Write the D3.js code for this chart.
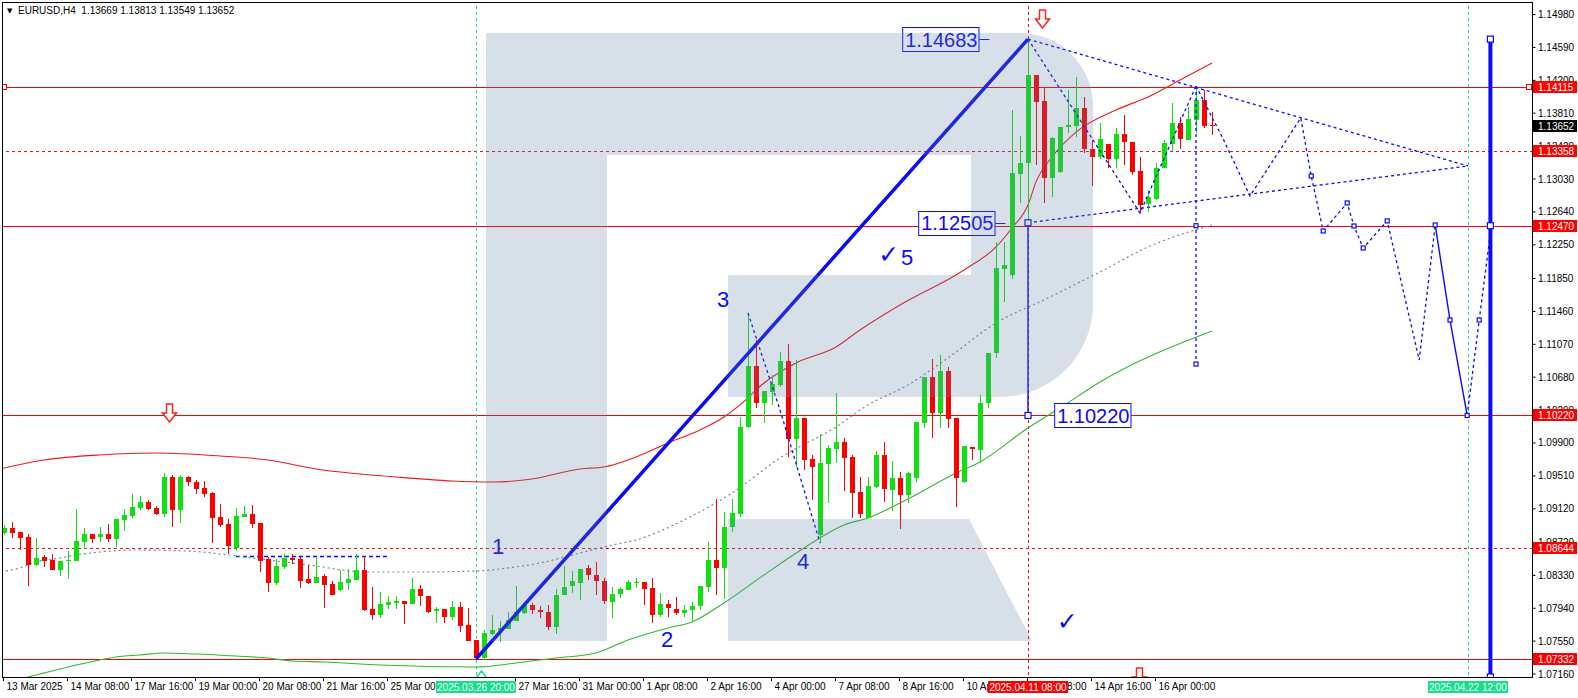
<!DOCTYPE html>
<html><head><meta charset="utf-8">
<script src="https://cdn.jsdelivr.net/npm/d3@7"></script>
<style>html,body{margin:0;padding:0;background:#fff;overflow:hidden}svg{display:block}</style>
</head><body>
<svg id="chart" width="1578" height="698"></svg>
<script>
// ---------- DATA (EURUSD H4, bar index 0 = 13 Mar 2025 00:00) ----------
const open = [
1.08826,1.08886,1.08838,1.08779,1.08448,1.08542,1.08507,1.08388,1.08495,1.08495,
1.08720,1.08815,1.08779,1.08815,1.08755,1.08981,1.09028,1.09123,1.09194,1.09123,
1.09052,1.09491,1.09099,1.09491,1.09431,1.09361,1.09301,1.09016,1.08933,1.08649,
1.09016,1.09052,1.08945,1.08518,1.08234,1.08424,1.08530,1.08518,1.08281,1.08234,
1.08317,1.08222,1.08151,1.08234,1.08269,1.08388,1.07926,1.07855,1.07973,1.07997,
1.08020,1.07985,1.08163,1.08080,1.07902,1.07926,1.07831,1.07950,1.07736,1.07558,
1.07344,1.07629,1.07665,1.07688,1.07783,1.07878,1.07973,1.07914,1.07890,1.07712,
1.08091,1.08198,1.08234,1.08412,1.08329,1.08257,1.08009,1.08103,1.08151,1.08234,
1.08246,1.08174,1.07855,1.07985,1.07926,1.07878,1.07914,1.07962,1.08186,1.08507,
1.08412,1.08898,1.09052,1.10084,1.10807,1.10368,1.10499,1.10582,1.10866,1.09942,
1.10191,1.09704,1.08803,1.09645,1.09823,1.09906,1.09728,1.09313,1.09004,1.09372,
1.09752,1.09337,1.09479,1.09277,1.09479,1.10131,1.10677,1.10250,1.10748,1.10191,
1.09431,1.09847,1.09811,1.10368,1.10961,1.11957,1.11886,1.13084,1.13214,1.14258,
1.13949,1.13036,1.13107,1.13641,1.13653,1.13866,1.13380,1.13285,1.13439,1.13261,
1.13558,1.13463,1.13119,1.12728,1.12787,1.13155,1.13439,1.13688,1.13487,1.13724,
1.13961,1.13669];
const high = [
1.08922,1.08957,1.08838,1.08815,1.08767,1.08566,1.08578,1.08495,1.08613,1.09111,
1.08886,1.08815,1.08898,1.08933,1.08993,1.09111,1.09289,1.09265,1.09218,1.09147,
1.09538,1.09514,1.09514,1.09503,1.09455,1.09443,1.09313,1.09171,1.08993,1.09123,
1.09147,1.09159,1.08945,1.08542,1.08518,1.08578,1.08578,1.08542,1.08448,1.08530,
1.08341,1.08257,1.08388,1.08400,1.08578,1.08554,1.08186,1.08127,1.08080,1.08080,
1.08020,1.08293,1.08210,1.08080,1.07950,1.07926,1.08020,1.08009,1.07938,1.07558,
1.07676,1.07855,1.07783,1.07890,1.08198,1.08009,1.07997,1.07962,1.07973,1.08163,
1.08436,1.08376,1.08400,1.08448,1.08483,1.08293,1.08186,1.08186,1.08269,1.08293,
1.08246,1.08293,1.08115,1.08032,1.08068,1.07973,1.08009,1.08198,1.08720,1.09230,
1.09076,1.09230,1.10202,1.11435,1.11115,1.10511,1.10700,1.10973,1.11068,1.10878,
1.10191,1.09752,1.10001,1.09870,1.10487,1.09953,1.09752,1.09491,1.09491,1.09799,
1.09906,1.09680,1.09550,1.09550,1.10143,1.10677,1.10890,1.10937,1.10795,1.10191,
1.09859,1.09847,1.10463,1.10961,1.12277,1.12277,1.13843,1.13534,1.14683,1.14258,
1.14103,1.13522,1.13641,1.14080,1.14234,1.13996,1.13487,1.13688,1.13439,1.13629,
1.13783,1.13463,1.13285,1.12894,1.13214,1.13487,1.13925,1.13759,1.13878,1.14127,
1.14080,1.13813];
const low = [
1.08803,1.08767,1.08625,1.08198,1.08436,1.08424,1.08388,1.08317,1.08281,1.08495,
1.08637,1.08708,1.08720,1.08720,1.08660,1.08850,1.09004,1.09099,1.09099,1.09040,
1.09016,1.08898,1.08945,1.09384,1.09289,1.09254,1.08708,1.08898,1.08578,1.08613,
1.09016,1.08886,1.08364,1.08127,1.08210,1.08400,1.08459,1.08174,1.08222,1.08234,
1.07938,1.08091,1.08139,1.08151,1.08269,1.07902,1.07795,1.07819,1.07926,1.07926,
1.07748,1.07985,1.07962,1.07878,1.07760,1.07760,1.07795,1.07652,1.07546,1.07332,
1.07321,1.07617,1.07534,1.07688,1.07783,1.07866,1.07866,1.07819,1.07676,1.07629,
1.08091,1.08115,1.08032,1.08269,1.08091,1.07985,1.07819,1.08056,1.08151,1.08174,
1.07973,1.07760,1.07831,1.07831,1.07855,1.07831,1.07783,1.07914,1.08127,1.08091,
1.08044,1.08838,1.09016,1.10072,1.10309,1.10131,1.10345,1.10558,1.09728,1.09609,
1.09574,1.09218,1.08708,1.09182,1.09656,1.09325,1.09004,1.09004,1.09004,1.09361,
1.09194,1.09087,1.08874,1.09182,1.09431,1.10072,1.09953,1.10072,1.10072,1.09135,
1.09420,1.09692,1.09656,1.10309,1.10902,1.11566,1.11839,1.12740,1.12505,1.13190,
1.12740,1.12811,1.13096,1.13570,1.13522,1.13333,1.12941,1.13261,1.13155,1.13155,
1.13190,1.13072,1.12621,1.12633,1.12775,1.13155,1.13356,1.13380,1.13487,1.13570,
1.13629,1.13549];
const close = [
1.08886,1.08826,1.08767,1.08448,1.08530,1.08495,1.08388,1.08495,1.08507,1.08732,
1.08815,1.08755,1.08815,1.08755,1.08993,1.09040,1.09135,1.09194,1.09111,1.09052,
1.09491,1.09099,1.09491,1.09431,1.09349,1.09289,1.09004,1.08922,1.08672,1.09028,
1.09052,1.08933,1.08495,1.08234,1.08436,1.08530,1.08507,1.08257,1.08234,1.08305,
1.08210,1.08091,1.08246,1.08281,1.08388,1.07914,1.07855,1.07985,1.08009,1.08020,
1.07985,1.08163,1.08080,1.07890,1.07926,1.07831,1.07950,1.07724,1.07546,1.07344,
1.07641,1.07676,1.07700,1.07795,1.07890,1.07973,1.07914,1.07890,1.07712,1.08091,
1.08186,1.08257,1.08400,1.08329,1.08257,1.08020,1.08103,1.08163,1.08246,1.08246,
1.08163,1.07855,1.07985,1.07938,1.07878,1.07914,1.07962,1.08198,1.08507,1.08412,
1.08898,1.09064,1.10084,1.10807,1.10368,1.10511,1.10594,1.10866,1.09942,1.10191,
1.09692,1.09609,1.09656,1.09835,1.09906,1.09716,1.09301,1.09052,1.09384,1.09752,
1.09349,1.09479,1.09277,1.09538,1.10143,1.10677,1.10250,1.10748,1.10179,1.09479,
1.09859,1.09823,1.10368,1.10961,1.11969,1.12004,1.13096,1.13214,1.14258,1.13937,
1.13036,1.13510,1.13641,1.13664,1.13866,1.13380,1.13285,1.13499,1.13261,1.13558,
1.13463,1.13107,1.12716,1.12811,1.13155,1.13451,1.13688,1.13499,1.13736,1.13961,
1.13653,1.13652];

// moving averages: [bar, price]
const redMA = [[-1,1.09575],[5,1.09692],[12,1.09752],[19,1.09775],[27,1.09740],[33,1.09692],[39,1.09586],[49,1.09491],[56,1.09443],[61,1.09431],[66,1.09467],[72,1.09586],[75,1.09609],[79,1.09728],[83,1.09894],[87,1.10048],[90,1.10202],[92,1.10345],[95,1.10605],[99,1.10843],[104,1.11032],[107,1.11234],[112,1.11530],[120,1.11945],[124,1.12218],[126,1.12443],[128,1.12716],[129,1.12990],[131,1.13285],[134,1.13580],[139,1.13843],[143,1.13997],[147,1.14198],[151,1.14400]];
const greenMA = [[-1,1.07036],[3,1.07119],[8,1.07238],[12,1.07321],[14,1.07356],[17,1.07380],[20,1.07404],[24,1.07392],[29,1.07368],[33,1.07344],[36,1.07309],[40,1.07297],[47,1.07261],[59,1.07238],[64,1.07285],[69,1.07344],[74,1.07404],[78,1.07558],[83,1.07700],[86,1.07771],[90,1.07997],[95,1.08329],[100,1.08649],[105,1.08922],[108,1.09005],[113,1.09230],[119,1.09538],[122,1.09669],[128,1.10072],[132,1.10309],[137,1.10617],[151,1.11222]];
const grayMA = [[-1,1.08364],[2,1.08412],[4,1.08483],[7,1.08530],[9,1.08566],[12,1.08601],[16,1.08625],[23,1.08613],[28,1.08566],[31,1.08530],[35,1.08483],[39,1.08435],[45,1.08364],[51,1.08364],[59,1.08376],[63,1.08412],[67,1.08471],[72,1.08590],[76,1.08684],[79,1.08744],[85,1.08981],[91,1.09301],[97,1.09716],[104,1.10084],[108,1.10345],[113,1.10582],[118,1.10902],[124,1.11317],[130,1.11590],[135,1.11827],[137,1.11922],[143,1.12218],[151,1.12479]];

// levels
const solidLevels = [1.14115, 1.12470, 1.10220, 1.07332];
const dashedLevels = [1.13358, 1.08644];
const blueDashLevel = {from: 29, to: 48, price: 1.08554};
const markerPrices = [1.14115, 1.13358, 1.12470, 1.10220, 1.08644, 1.07332];
const currentPrice = 1.13652;

// vertical time markers
const greenVBars = [59, 183];
const redVBars = [128];
const dateTagBars = [59, 128, 183];
const dateTagLabels = ["2025.03.26 20:00", "2025.04.11 08:00", "2025.04.22 12:00"];

// axis ticks
const yTicks = [1.14980,1.14590,1.14200,1.13810,1.13420,1.13030,1.12640,1.12250,1.11850,1.11460,1.11070,1.10680,1.10290,1.09900,1.09510,1.09120,1.08720,1.08330,1.07940,1.07550,1.07160];
const xTickBars = [0,8,16,24,32,40,48,64,72,80,88,96,104,112,120,128,136,144];
const xTickLabels = ["13 Mar 2025","14 Mar 08:00","17 Mar 16:00","19 Mar 00:00","20 Mar 08:00","21 Mar 16:00","25 Mar 00:00","27 Mar 16:00","31 Mar 00:00","1 Apr 08:00","2 Apr 16:00","4 Apr 00:00","7 Apr 08:00","8 Apr 16:00","10 Apr 00:00","11 Apr 08:00","14 Apr 16:00","16 Apr 00:00"];

// analysis drawings [bar, price]
const waveLine = [[59,1.07332],[128,1.14683]];
const triUpper = [[128,1.14683],[183,1.13179]];
const triLower = [[128,1.12505],[183,1.13179]];
const zigzag = [[128,1.14683],[142,1.12621],[149,1.14127]];
const wave34 = [[93,1.11435],[97,1.10285],[102,1.08708]];
const vert149 = [[149,1.14127],[149,1.10830]];
const forecastDotA = [[149,1.14127],[152.4,1.13499],[155.75,1.12823],[162.1,1.13748],[163.4,1.13060],[164.9,1.12408],[167.9,1.12740],[168.75,1.12467],[169.9,1.12206],[172.9,1.12527],[176.9,1.10878],[178.9,1.12479]];
const forecastSolid = [[178.9,1.12479],[180.75,1.11352],[182.9,1.10220]];
const forecastDotB = [[182.9,1.10220],[184.4,1.11352],[185.9,1.12455]];
const forecastNodes = [[149,1.12470],[149,1.10830],[163.4,1.13060],[164.9,1.12408],[167.9,1.12740],[168.75,1.12467],[169.9,1.12206],[172.9,1.12527],[178.9,1.12479],[180.75,1.11352],[182.9,1.10220],[184.4,1.11352]];
const measureLine = [[128,1.12505],[128,1.10220]];
const thickVBar = 185.8;
const thickVTop = 1.14683;
const thickVNodes = [1.14683, 1.12470, 1.07119];
const tagPrices = [1.14683, 1.12505, 1.10220];
const tagBoxBars = [112.4, 114.4, 131.4];
const tagTickSide = ["right", "right", "none"];
const waveLabels = [["1",61.75,1.08672],["2",82.9,1.07558],["3",89.9,1.11590],["4",99.9,1.08483],["5",112.9,1.12088]];
const checkMarks = [[110.6,1.12124],[132.9,1.07783]];
const downArrows = [[129.75,1.14815],[20.6,1.10143],[141.9,1.07012]];
const upArrows = [[59.6,1.07190]];
const header = "EURUSD,H4  1.13669 1.13813 1.13549 1.13652";

// ---------- DRAWING ----------
const F = '"Liberation Sans", Arial, sans-serif';
const svg = d3.select('#chart');
const x = d3.scaleLinear().domain([0, 191]).range([4, 1532]);
const y = d3.scaleLinear().domain([1.07119, 1.15123]).range([677, 2]);
const ry = p => Math.round(y(p)) + 0.5;
const rx = b => Math.round(x(b)) + 0.5;
const BLUE = '#0a0af5';

svg.append('rect').attr('width', 1578).attr('height', 698).attr('fill', '#fff');
svg.append('defs').append('clipPath').attr('id', 'clip')
  .append('rect').attr('x', 2).attr('y', 2).attr('width', 1530).attr('height', 675);
const g = svg.append('g').attr('clip-path', 'url(#clip)');

// horizontal levels
solidLevels.forEach(p => g.append('line').attr('x1', 0).attr('x2', 1532).attr('y1', ry(p)).attr('y2', ry(p)).attr('stroke', '#ff0000'));
dashedLevels.forEach(p => g.append('line').attr('x1', 0).attr('x2', 1532).attr('y1', ry(p)).attr('y2', ry(p)).attr('stroke', '#ee1111').attr('stroke-dasharray', '3,3'));
g.append('line').attr('x1', x(blueDashLevel.from)).attr('x2', x(blueDashLevel.to)).attr('y1', ry(blueDashLevel.price)).attr('y2', ry(blueDashLevel.price)).attr('stroke', BLUE).attr('stroke-width', 1.4).attr('stroke-dasharray', '4,3');
[4, 1529].forEach(px => g.append('rect').attr('x', px - 2.5).attr('y', ry(markerPrices[0]) - 3).attr('width', 5).attr('height', 5).attr('fill', '#fff').attr('stroke', '#ff0000'));

// vertical lines
greenVBars.forEach(b => g.append('line').attr('x1', rx(b)).attr('x2', rx(b)).attr('y1', 0).attr('y2', 680).attr('stroke', '#14e08a').attr('stroke-dasharray', '3,3'));
redVBars.forEach(b => g.append('line').attr('x1', rx(b)).attr('x2', rx(b)).attr('y1', 0).attr('y2', 680).attr('stroke', '#ee1111').attr('stroke-dasharray', '3,3'));

// moving averages
const lg = d3.line().x(d => x(d[0])).y(d => y(d[1])).curve(d3.curveMonotoneX);
g.append('path').datum(grayMA).attr('d', lg).attr('fill', 'none').attr('stroke', '#7a8898').attr('stroke-width', 1.2).attr('stroke-dasharray', '2,3');
g.append('path').datum(greenMA).attr('d', lg).attr('fill', 'none').attr('stroke', '#2dbb2d').attr('stroke-width', 1.1);
g.append('path').datum(redMA).attr('d', lg).attr('fill', 'none').attr('stroke', '#ee1a1a').attr('stroke-width', 1.1);

// candles
const cg = g.append('g');
open.forEach((o, i) => {
  const c = close[i], bull = c >= o;
  const col = bull ? '#10e010' : '#ff0000';
  const cx = Math.round(x(i));
  const yH = Math.round(y(high[i])), yL = Math.round(y(low[i]));
  cg.append('rect').attr('x', cx).attr('y', yH).attr('width', 1).attr('height', Math.max(1, yL - yH)).attr('fill', col);
  const t = Math.round(y(Math.max(o, c))), b = Math.round(y(Math.min(o, c)));
  cg.append('rect').attr('x', cx - 2).attr('y', t).attr('width', 5).attr('height', Math.max(1, b - t)).attr('fill', col);
});

// analysis drawings
const ll = d3.line().x(d => x(d[0])).y(d => y(d[1]));
const dotted = (data) => g.append('path').datum(data).attr('d', ll).attr('fill', 'none').attr('stroke', BLUE).attr('stroke-width', 1.3).attr('stroke-dasharray', '3,3');
[triUpper, triLower, zigzag, wave34, vert149, forecastDotA, forecastDotB].forEach(dotted);
g.append('path').datum(forecastSolid).attr('d', ll).attr('fill', 'none').attr('stroke', BLUE).attr('stroke-width', 1.4);
g.append('path').datum(measureLine).attr('d', ll).attr('fill', 'none').attr('stroke', BLUE).attr('stroke-width', 1.4);
g.append('path').datum(waveLine).attr('d', ll).attr('fill', 'none').attr('stroke', BLUE).attr('stroke-width', 3.5);
g.append('line').attr('x1', x(thickVBar)).attr('x2', x(thickVBar)).attr('y1', y(thickVTop)).attr('y2', 690).attr('stroke', BLUE).attr('stroke-width', 4);
const sq = (cx, cy, s) => g.append('rect').attr('x', cx - s / 2).attr('y', cy - s / 2).attr('width', s).attr('height', s).attr('fill', '#fff').attr('stroke', BLUE).attr('stroke-width', 1.2);
forecastNodes.forEach(d => sq(x(d[0]), y(d[1]), 4));
measureLine.forEach(d => sq(x(d[0]), y(d[1]), 6));
thickVNodes.forEach(p => sq(x(thickVBar), y(p), 6));

// price tags
tagPrices.forEach((p, i) => {
  const bx = x(tagBoxBars[i]), cy = y(p);
  const t = g.append('text').attr('x', bx + 2).attr('y', cy + 7.5).attr('font-family', F).attr('font-size', 20).attr('fill', BLUE).text(d3.format('.5f')(p));
  const w = t.node().getComputedTextLength() + 4;
  g.insert('rect', 'text').attr('x', bx - 0.5).attr('y', Math.round(cy) - 11.5).attr('width', w).attr('height', 24).attr('fill', '#fff').attr('stroke', BLUE);
  t.raise();
  if (tagTickSide[i] === 'right') g.append('line').attr('x1', bx + w).attr('x2', bx + w + 10).attr('y1', Math.round(cy) + 0.5).attr('y2', Math.round(cy) + 0.5).attr('stroke', BLUE);
});

// wave labels
waveLabels.forEach(d => g.append('text').attr('x', x(d[1])).attr('y', y(d[2])).attr('text-anchor', 'middle').attr('dominant-baseline', 'central').attr('font-family', F).attr('font-size', 22).attr('fill', BLUE).text(d[0]));
checkMarks.forEach(d => g.append('text').attr('x', x(d[0])).attr('y', y(d[1])).attr('text-anchor', 'middle').attr('dominant-baseline', 'central').attr('font-family', '"DejaVu Sans", sans-serif').attr('font-size', 25).attr('font-weight', 'bold').attr('fill', BLUE).text('\u2713'));

// arrows
downArrows.forEach(d => {
  const tx = Math.round(x(d[0])) + 0.5, ty = Math.round(y(d[1]));
  g.append('path').attr('d', `M${tx-3},${ty-18}h6v9h4l-7,9l-7,-9h4z`).attr('fill', '#fff').attr('stroke', '#ff2020').attr('stroke-width', 1.5);
});
upArrows.forEach(d => {
  const tx = Math.round(x(d[0])) + 0.5, ty = Math.round(y(d[1]));
  g.append('path').attr('d', `M${tx-3},${ty+18}h6v-9h4l-7,-9l-7,9h4z`).attr('fill', '#fff').attr('stroke', '#14e08a').attr('stroke-width', 1.5);
});

// watermark logo overlay
const wm = svg.append('g').attr('clip-path', 'url(#clip)').attr('fill', '#5f7fa7').attr('fill-opacity', 0.25);
wm.append('path').attr('d', 'M486,33H1020A73,73 0 0 1 1093,106V304A93,93 0 0 1 1000,397H728V275H971V155H607V641H486Z');
wm.append('path').attr('d', 'M728,519H969L1032,641H728Z');

// frame
svg.append('rect').attr('x', 2.5).attr('y', 2.5).attr('width', 1530).attr('height', 675).attr('fill', 'none').attr('stroke', '#000');

// right axis
const ay = svg.append('g').attr('transform', 'translate(1532.5,0)')
  .call(d3.axisRight(y).tickValues(yTicks).tickFormat(d3.format('.5f')).tickSize(3).tickSizeOuter(0));
ay.select('.domain').remove();
ay.selectAll('line').attr('stroke', '#000');
ay.selectAll('text').attr('font-family', F).attr('font-size', 10).attr('fill', '#000').attr('x', 5.5).attr('dy', '0.35em');

// price boxes
const pbox = (p, fill) => {
  const cy = Math.round(y(p));
  svg.append('rect').attr('x', 1533).attr('y', cy - 6).attr('width', 44).attr('height', 12).attr('fill', fill);
  svg.append('text').attr('x', 1538).attr('y', cy + 3.6).attr('font-family', F).attr('font-size', 10).attr('fill', '#fff').text(d3.format('.5f')(p));
};
markerPrices.forEach(p => pbox(p, '#ff0000'));
pbox(currentPrice, '#000');

// bottom axis
xTickBars.forEach((b, i) => {
  const px = Math.round(x(b)) - 0.5;
  svg.append('line').attr('x1', px).attr('x2', px).attr('y1', 677).attr('y2', 681).attr('stroke', '#000');
  svg.append('text').attr('x', px + 3).attr('y', 690).attr('font-family', F).attr('font-size', 10).attr('fill', '#000').text(xTickLabels[i]);
});
dateTagBars.forEach((b, i) => {
  const cx = x(b);
  svg.append('rect').attr('x', Math.round(cx) - 40).attr('y', 681).attr('width', 80).attr('height', 12).attr('fill', i === 1 ? '#ff0000' : '#14e08a');
  svg.append('text').attr('x', cx).attr('y', 690.5).attr('text-anchor', 'middle').attr('font-family', F).attr('font-size', 10).attr('fill', '#fff').text(dateTagLabels[i]);
});

// header
svg.append('text').attr('x', 7).attr('y', 13).attr('font-family', '"DejaVu Sans", sans-serif').attr('font-size', 7).attr('fill', '#000').text('\u25BC');
svg.append('text').attr('x', 18).attr('y', 14).attr('font-family', F).attr('font-size', 10).attr('fill', '#000').style('white-space', 'pre').text(header);
</script>
</body></html>
